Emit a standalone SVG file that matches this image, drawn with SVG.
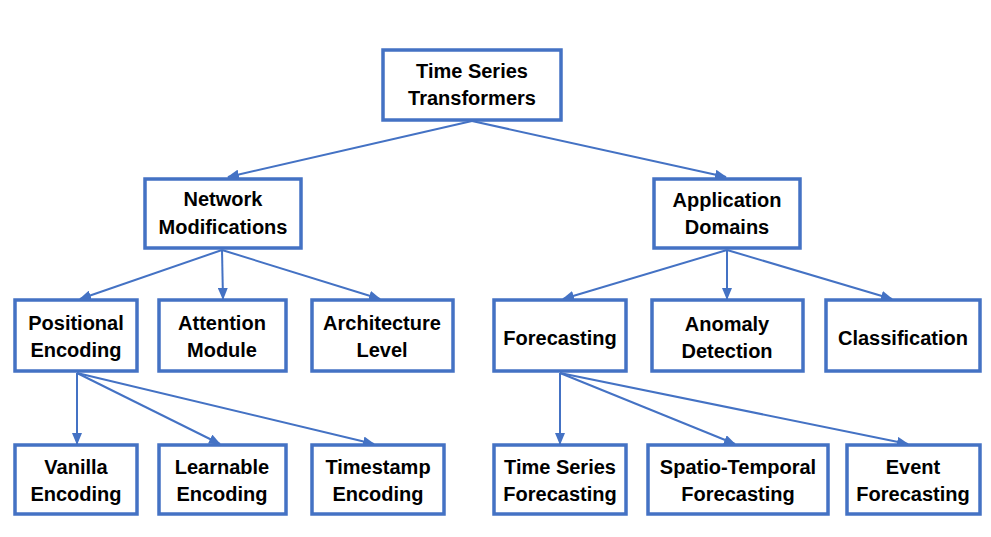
<svg xmlns="http://www.w3.org/2000/svg" width="991" height="537" viewBox="0 0 991 537">
<style>
.box{fill:#ffffff;stroke:#4472C4;stroke-width:3.5}
.lbl{font-family:"Liberation Sans",Arial,sans-serif;font-weight:bold;font-size:20px;fill:#000000;text-anchor:middle}
.con{stroke:#4472C4;stroke-width:2;fill:none;marker-end:url(#ah)}
</style>
<defs>
<marker id="ah" markerUnits="userSpaceOnUse" markerWidth="12" markerHeight="10" refX="11" refY="5" orient="auto">
<path d="M0,0 L12,5 L0,10 z" fill="#4472C4"/>
</marker>
</defs>
<rect width="991" height="537" fill="#ffffff"/>
<g id="connectors">
<line class="con" x1="472" y1="121" x2="228" y2="177"/>
<line class="con" x1="472" y1="121" x2="726" y2="177"/>
<line class="con" x1="222" y1="250" x2="80" y2="299"/>
<line class="con" x1="222" y1="250" x2="223" y2="299"/>
<line class="con" x1="222" y1="250" x2="380" y2="299"/>
<line class="con" x1="727" y1="250" x2="563" y2="299"/>
<line class="con" x1="727" y1="250" x2="727" y2="299"/>
<line class="con" x1="727" y1="250" x2="892" y2="299"/>
<line class="con" x1="77" y1="373" x2="77" y2="444"/>
<line class="con" x1="77" y1="373" x2="220" y2="444"/>
<line class="con" x1="77" y1="373" x2="374" y2="444"/>
<line class="con" x1="560" y1="373" x2="560" y2="444"/>
<line class="con" x1="560" y1="373" x2="735" y2="444"/>
<line class="con" x1="560" y1="373" x2="908" y2="444"/>
</g>
<g id="n-root"><rect class="box" x="383" y="50" width="178" height="70"/><text class="lbl" x="472" y="78">Time Series</text><text class="lbl" x="472" y="105">Transformers</text></g>
<g id="n-network"><rect class="box" x="145" y="179" width="156" height="69"/><text class="lbl" x="223" y="206">Network</text><text class="lbl" x="223" y="234">Modifications</text></g>
<g id="n-application"><rect class="box" x="654" y="179" width="146" height="69"/><text class="lbl" x="727" y="207">Application</text><text class="lbl" x="727" y="234">Domains</text></g>
<g id="n-positional"><rect class="box" x="15" y="300" width="122" height="71"/><text class="lbl" x="76" y="330">Positional</text><text class="lbl" x="76" y="357">Encoding</text></g>
<g id="n-attention"><rect class="box" x="159" y="300" width="127" height="71"/><text class="lbl" x="222" y="330">Attention</text><text class="lbl" x="222" y="357">Module</text></g>
<g id="n-architecture"><rect class="box" x="312" y="300" width="141" height="71"/><text class="lbl" x="382" y="330">Architecture</text><text class="lbl" x="382" y="357">Level</text></g>
<g id="n-forecasting"><rect class="box" x="494" y="300" width="132" height="71"/><text class="lbl" x="560" y="345">Forecasting</text></g>
<g id="n-anomaly"><rect class="box" x="652" y="300" width="151" height="71"/><text class="lbl" x="727" y="331">Anomaly</text><text class="lbl" x="727" y="358">Detection</text></g>
<g id="n-classification"><rect class="box" x="826" y="300" width="154" height="71"/><text class="lbl" x="903" y="345">Classification</text></g>
<g id="n-vanilla"><rect class="box" x="15" y="445" width="122" height="69"/><text class="lbl" x="76" y="474">Vanilla</text><text class="lbl" x="76" y="501">Encoding</text></g>
<g id="n-learnable"><rect class="box" x="159" y="445" width="127" height="69"/><text class="lbl" x="222" y="474">Learnable</text><text class="lbl" x="222" y="501">Encoding</text></g>
<g id="n-timestamp"><rect class="box" x="312" y="445" width="132" height="69"/><text class="lbl" x="378" y="474">Timestamp</text><text class="lbl" x="378" y="501">Encoding</text></g>
<g id="n-tsf"><rect class="box" x="494" y="445" width="132" height="69"/><text class="lbl" x="560" y="474">Time Series</text><text class="lbl" x="560" y="501">Forecasting</text></g>
<g id="n-stf"><rect class="box" x="648" y="445" width="180" height="69"/><text class="lbl" x="738" y="474">Spatio-Temporal</text><text class="lbl" x="738" y="501">Forecasting</text></g>
<g id="n-event"><rect class="box" x="847" y="445" width="133" height="69"/><text class="lbl" x="913" y="474">Event</text><text class="lbl" x="913" y="501">Forecasting</text></g>
</svg>
